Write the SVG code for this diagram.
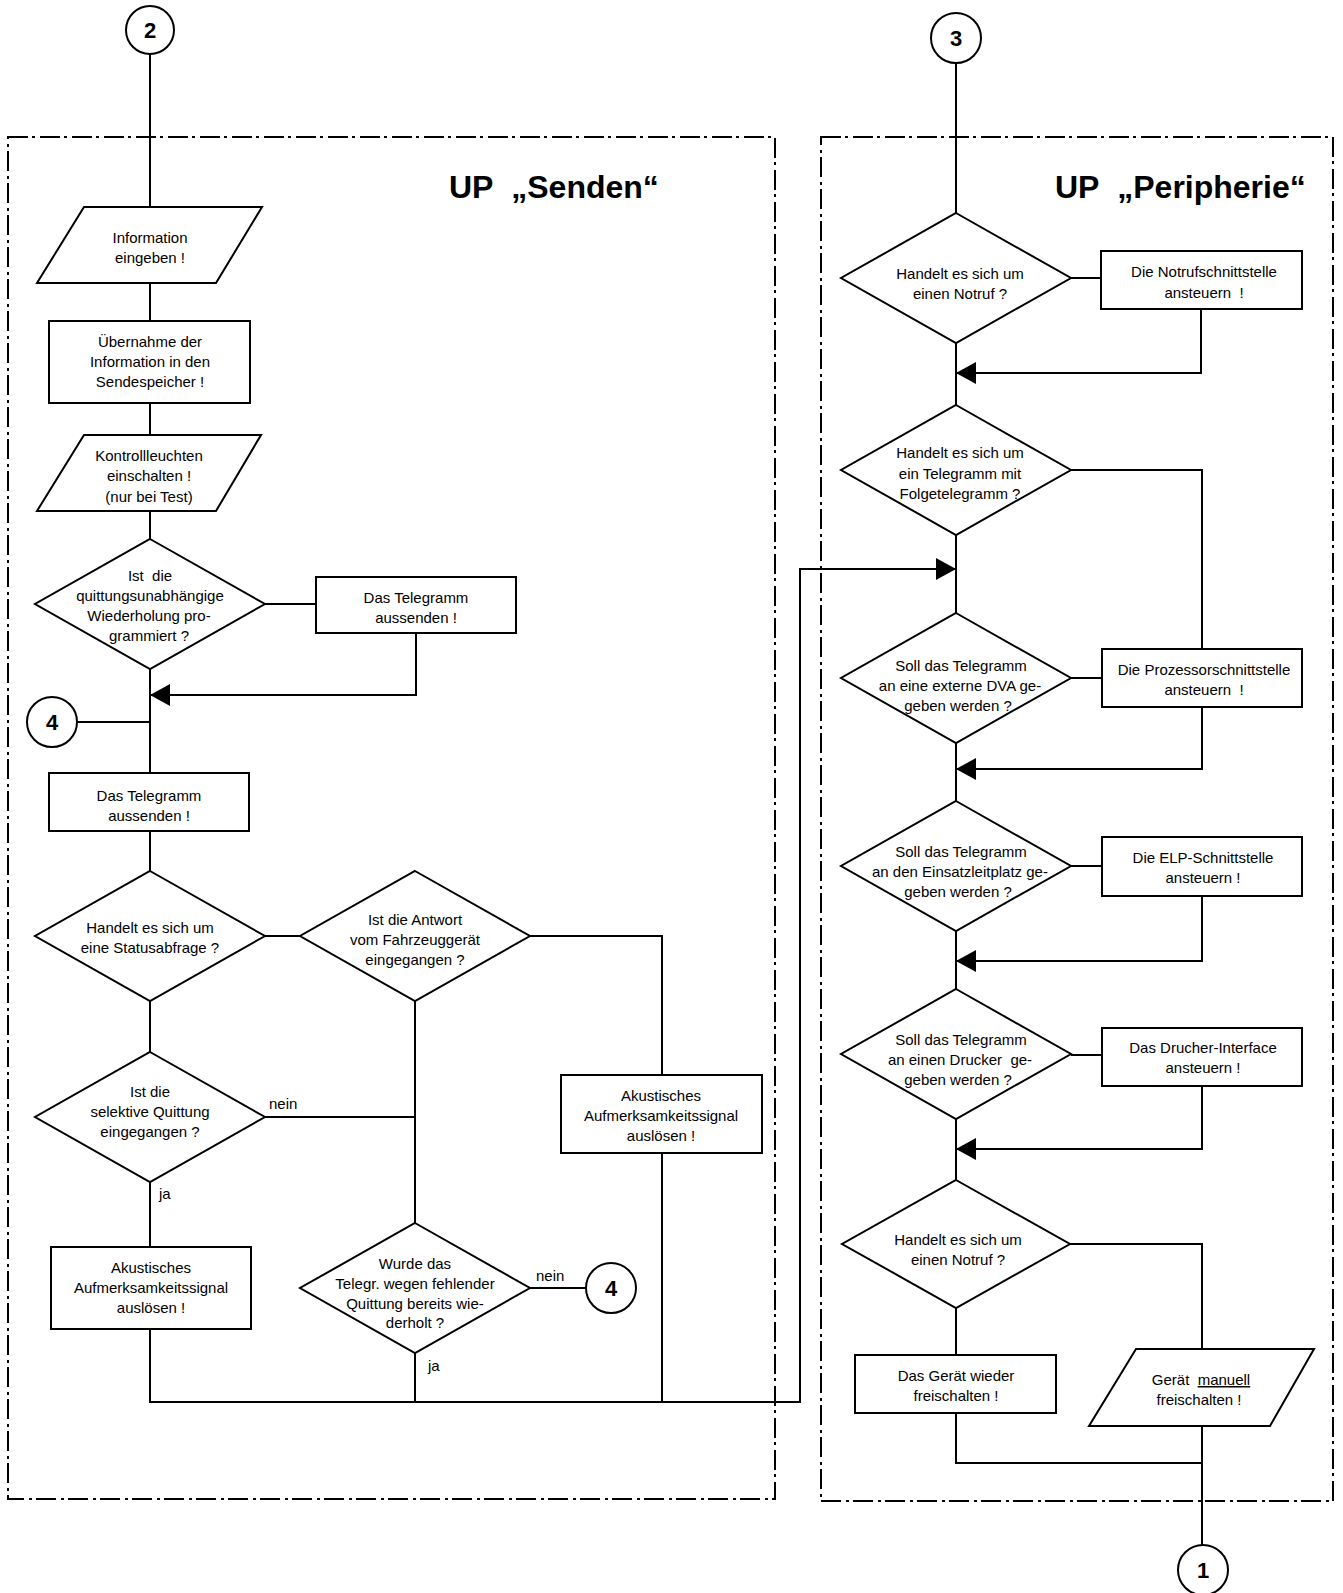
<svg xmlns="http://www.w3.org/2000/svg" width="1343" height="1593" viewBox="0 0 1343 1593">
<style>
.n{fill:#fff;stroke:#000;stroke-width:2}
.c{fill:none;stroke:#000;stroke-width:2}
.b{fill:none;stroke:#000;stroke-width:2;stroke-dasharray:20 4 3 5}
.ar{marker-end:url(#ah)}
text{font-family:"Liberation Sans",Arial,sans-serif;font-size:15px;fill:#000}
.m{text-anchor:middle}
.h{font-size:32px;font-weight:bold}
.d{font-size:22px;font-weight:bold;text-anchor:middle}
.u{text-decoration:underline}
</style>
<defs>
<marker id="ah" markerUnits="userSpaceOnUse" markerWidth="20" markerHeight="22" viewBox="0 0 20 22" refX="20" refY="11" orient="auto">
<path d="M0,0 L20,11 L0,22 z" fill="#000"/>
</marker>
</defs>
<rect width="1343" height="1593" fill="#fff"/>

<g id="boundaries">
<rect class="b" x="8" y="137" width="767" height="1362"/>
<rect class="b" x="821" y="137" width="512" height="1364"/>
<text class="h" x="449" y="198">UP&#160; „Senden“</text>
<text class="h" x="1055" y="198">UP&#160; „Peripherie“</text>
</g>

<g id="connectors">
<path class="c" d="M150,54 V207"/>
<path class="c" d="M150,283 V321"/>
<path class="c" d="M150,403 V435"/>
<path class="c" d="M150,511 V539"/>
<path class="c" d="M265,604 H316"/>
<path class="c ar" d="M416,633 V695 H150"/>
<path class="c" d="M150,669 V773"/>
<path class="c" d="M77,722 H150"/>
<path class="c" d="M150,831 V871"/>
<path class="c" d="M265,936 H300"/>
<path class="c" d="M530,936 H662 V1075"/>
<path class="c" d="M150,1001 V1052"/>
<path class="c" d="M265,1117 H415"/>
<path class="c" d="M415,1001 V1223"/>
<path class="c" d="M150,1182 V1247"/>
<path class="c" d="M530,1288 H586"/>
<path class="c ar" d="M150,1329 V1402 H800 V569 H956"/>
<path class="c" d="M415,1353 V1402"/>
<path class="c" d="M662,1153 V1402"/>
<path class="c" d="M956,63 V213"/>
<path class="c" d="M1071,278 H1101"/>
<path class="c ar" d="M1201,309 V373 H956"/>
<path class="c" d="M956,343 V405"/>
<path class="c" d="M1071,470 H1202 V649"/>
<path class="c" d="M956,535 V613"/>
<path class="c" d="M1071,678 H1102"/>
<path class="c ar" d="M1202,707 V769 H956"/>
<path class="c" d="M956,743 V801"/>
<path class="c" d="M1071,866 H1102"/>
<path class="c ar" d="M1202,896 V961 H956"/>
<path class="c" d="M956,931 V989"/>
<path class="c" d="M1071,1055 H1102"/>
<path class="c ar" d="M1202,1086 V1149 H956"/>
<path class="c" d="M956,1119 V1180"/>
<path class="c" d="M1070,1244 H1202 V1349"/>
<path class="c" d="M956,1308 V1355"/>
<path class="c" d="M956,1413 V1463 H1202"/>
<path class="c" d="M1202,1426 V1546"/>
</g>

<g id="c2"><circle class="n" cx="150" cy="30" r="24"/><text class="d" x="150" y="38">2</text></g>
<g id="c3"><circle class="n" cx="956" cy="38" r="25"/><text class="d" x="956" y="46">3</text></g>
<g id="c4a"><circle class="n" cx="52" cy="722" r="25"/><text class="d" x="52" y="730">4</text></g>
<g id="c4b"><circle class="n" cx="611" cy="1288" r="25"/><text class="d" x="611" y="1296">4</text></g>
<g id="c1"><circle class="n" cx="1203" cy="1570" r="25"/><text class="d" x="1203" y="1578">1</text></g>

<g id="p1"><polygon class="n" points="84,207 262,207 216,283 37,283"/>
<text class="m" x="150" y="243">Information</text><text class="m" x="150" y="263">eingeben !</text></g>

<g id="r1"><rect class="n" x="49" y="321" width="201" height="82"/>
<text class="m" x="150" y="347">Übernahme der</text><text class="m" x="150" y="367">Information in den</text><text class="m" x="150" y="387">Sendespeicher !</text></g>

<g id="p2"><polygon class="n" points="84,435 261,435 216,511 37,511"/>
<text class="m" x="149" y="461">Kontrollleuchten</text><text class="m" x="149" y="481">einschalten !</text><text class="m" x="149" y="502">(nur bei Test)</text></g>

<g id="d1"><polygon class="n" points="150,539 265,604 150,669 35,604"/>
<text class="m" x="150" y="581">Ist&#160; die</text><text class="m" x="150" y="601">quittungsunabhängige</text><text class="m" x="149" y="621">Wiederholung pro-</text><text class="m" x="149" y="641">grammiert ?</text></g>

<g id="r2"><rect class="n" x="316" y="577" width="200" height="56"/>
<text class="m" x="416" y="603">Das Telegramm</text><text class="m" x="416" y="623">aussenden !</text></g>

<g id="r3"><rect class="n" x="49" y="773" width="200" height="58"/>
<text class="m" x="149" y="801">Das Telegramm</text><text class="m" x="149" y="821">aussenden !</text></g>

<g id="d2"><polygon class="n" points="150,871 265,936 150,1001 35,936"/>
<text class="m" x="150" y="933">Handelt es sich um</text><text class="m" x="150" y="953">eine Statusabfrage ?</text></g>

<g id="d3"><polygon class="n" points="415,871 530,936 415,1001 300,936"/>
<text class="m" x="415" y="925">Ist die Antwort</text><text class="m" x="415" y="945">vom Fahrzeuggerät</text><text class="m" x="415" y="965">eingegangen ?</text></g>

<g id="r4"><rect class="n" x="561" y="1075" width="201" height="78"/>
<text class="m" x="661" y="1101">Akustisches</text><text class="m" x="661" y="1121">Aufmerksamkeitssignal</text><text class="m" x="661" y="1141">auslösen !</text></g>

<g id="d4"><polygon class="n" points="150,1052 265,1117 150,1182 35,1117"/>
<text class="m" x="150" y="1097">Ist die</text><text class="m" x="150" y="1117">selektive Quittung</text><text class="m" x="150" y="1137">eingegangen ?</text></g>

<g id="r5"><rect class="n" x="51" y="1247" width="200" height="82"/>
<text class="m" x="151" y="1273">Akustisches</text><text class="m" x="151" y="1293">Aufmerksamkeitssignal</text><text class="m" x="151" y="1313">auslösen !</text></g>

<g id="d5"><polygon class="n" points="415,1223 530,1288 415,1353 300,1288"/>
<text class="m" x="415" y="1269">Wurde das</text><text class="m" x="415" y="1289">Telegr. wegen fehlender</text><text class="m" x="415" y="1309">Quittung bereits wie-</text><text class="m" x="415" y="1328">derholt ?</text></g>

<g id="labels">
<text x="269" y="1109">nein</text>
<text x="159" y="1199">ja</text>
<text x="536" y="1281">nein</text>
<text x="428" y="1371">ja</text>
</g>

<g id="d6"><polygon class="n" points="956,213 1071,278 956,343 841,278"/>
<text class="m" x="960" y="279">Handelt es sich um</text><text class="m" x="960" y="299">einen Notruf ?</text></g>

<g id="r6"><rect class="n" x="1101" y="251" width="201" height="58"/>
<text class="m" x="1204" y="277">Die Notrufschnittstelle</text><text class="m" x="1204" y="298">ansteuern&#160; !</text></g>

<g id="d7"><polygon class="n" points="956,405 1071,470 956,535 841,470"/>
<text class="m" x="960" y="458">Handelt es sich um</text><text class="m" x="960" y="479">ein Telegramm mit</text><text class="m" x="960" y="499">Folgetelegramm ?</text></g>

<g id="d8"><polygon class="n" points="956,613 1071,678 956,743 841,678"/>
<text class="m" x="961" y="671">Soll das Telegramm</text><text class="m" x="960" y="691">an eine externe DVA ge-</text><text class="m" x="958" y="711">geben werden ?</text></g>

<g id="r7"><rect class="n" x="1102" y="649" width="200" height="58"/>
<text class="m" x="1204" y="675">Die Prozessorschnittstelle</text><text class="m" x="1204" y="695">ansteuern&#160; !</text></g>

<g id="d9"><polygon class="n" points="956,801 1071,866 956,931 841,866"/>
<text class="m" x="961" y="857">Soll das Telegramm</text><text class="m" x="960" y="877">an den Einsatzleitplatz ge-</text><text class="m" x="958" y="897">geben werden ?</text></g>

<g id="r8"><rect class="n" x="1102" y="837" width="200" height="59"/>
<text class="m" x="1203" y="863">Die ELP-Schnittstelle</text><text class="m" x="1203" y="883">ansteuern !</text></g>

<g id="d10"><polygon class="n" points="956,989 1071,1054 956,1119 841,1054"/>
<text class="m" x="961" y="1045">Soll das Telegramm</text><text class="m" x="960" y="1065">an einen Drucker&#160; ge-</text><text class="m" x="958" y="1085">geben werden ?</text></g>

<g id="r9"><rect class="n" x="1102" y="1028" width="200" height="58"/>
<text class="m" x="1203" y="1053">Das Drucher-Interface</text><text class="m" x="1203" y="1073">ansteuern !</text></g>

<g id="d11"><polygon class="n" points="956,1180 1070,1244 956,1308 842,1244"/>
<text class="m" x="958" y="1245">Handelt es sich um</text><text class="m" x="958" y="1265">einen Notruf ?</text></g>

<g id="r10"><rect class="n" x="855" y="1355" width="201" height="58"/>
<text class="m" x="956" y="1381">Das Gerät wieder</text><text class="m" x="956" y="1401">freischalten !</text></g>

<g id="p3"><polygon class="n" points="1136,1349 1314,1349 1270,1426 1089,1426"/>
<text class="m" x="1201" y="1385">Gerät&#160; <tspan class="u">manuell</tspan></text><text class="m" x="1199" y="1405">freischalten !</text></g>
</svg>
